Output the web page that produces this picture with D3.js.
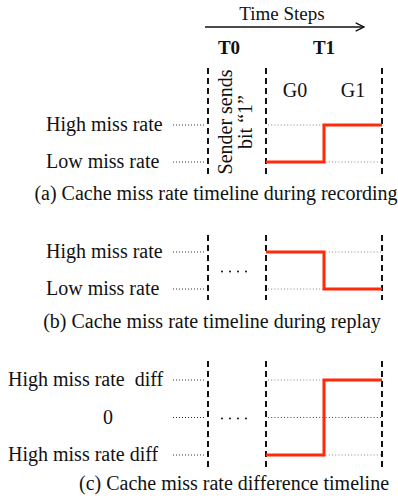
<!DOCTYPE html>
<html>
<head>
<meta charset="utf-8">
<script src="https://cdn.jsdelivr.net/npm/d3@7"></script>
<style>
  body { margin: 0; background: #fff; }
  svg text { font-family: "Liberation Serif", "DejaVu Serif", serif; fill: #111; white-space: pre; }
  .lbl { font-size: 20px; }
  .cap { font-size: 20px; }
  .ttl { font-size: 19px; }
  .bold { font-weight: bold; font-size: 19px; }
</style>
</head>
<body>
<div id="chartHolder"></div>
<script>
// time axis
const timeSteps = ["T0", "T1"];
const groups = ["G0", "G1"];
const senderText = ["Sender sends", "bit \u201C1\u201D"];

// panel data
const captions = [
  "(a) Cache miss rate timeline during recording",
  "(b) Cache miss rate timeline during replay",
  "(c) Cache miss rate difference timeline"
];
const levelLabelsA = ["High miss rate", "Low miss rate"];
const levelLabelsB = ["High miss rate", "Low miss rate"];
const levelLabelsC = ["High miss rate  diff", "0", "High miss rate diff"];
const levelValuesA = [1, 0];
const levelValuesB = [1, 0];
const levelValuesC = [1, 0, -1];
// value of G0 and G1
const recording = [0, 1];
const replay = [1, 0];
const difference = [-1, 1];

const w = 398;
const h = 499;

const svg = d3.select("#chartHolder")
  .append("svg")
  .attr("width", w)
  .attr("height", h);

// boundaries: 0 = start T0, 1 = start T1, 2 = G0/G1 split, 3 = end T1
const xScale = d3.scaleLinear().domain([0, 3]).range([208, 382]);

svg.append("defs").append("marker")
  .attr("id", "arr")
  .attr("viewBox", "0 0 10 10")
  .attr("refX", 9).attr("refY", 5)
  .attr("markerWidth", 8).attr("markerHeight", 8)
  .attr("orient", "auto")
  .append("path")
  .attr("d", "M1,1 L9,5 L1,9")
  .attr("fill", "none")
  .attr("stroke", "#111")
  .attr("stroke-width", 1.3);

// header
svg.append("line")
  .attr("x1", 205).attr("x2", 364)
  .attr("y1", 27).attr("y2", 27)
  .attr("stroke", "#111").attr("stroke-width", 1.3)
  .attr("marker-end", "url(#arr)");
svg.append("text").attr("class", "ttl")
  .attr("x", 282).attr("y", 20)
  .attr("text-anchor", "middle")
  .text("Time Steps");
svg.selectAll(".tstep")
  .data(timeSteps)
  .enter()
  .append("text")
  .attr("class", "bold tstep")
  .attr("x", (d, i) => [229, 324][i])
  .attr("y", 54)
  .attr("text-anchor", "middle")
  .text((d) => d);

const panels = [
  { labels: levelLabelsA, vals: levelValuesA, series: recording, dom: [0, 1], rng: [162, 125], top: 68, bot: 175, labX: 46, dots: false },
  { labels: levelLabelsB, vals: levelValuesB, series: replay, dom: [0, 1], rng: [289, 252], top: 235, bot: 300, labX: 46, dots: true },
  { labels: levelLabelsC, vals: levelValuesC, series: difference, dom: [-1, 1], rng: [455, 380], top: 361, bot: 467, labX: 8, dots: true }
];
const capPos = [[216, 200], [212, 328], [234, 490]];

panels.forEach((p, k) => {
  const y = d3.scaleLinear().domain(p.dom).range(p.rng);
  const g = svg.append("g");

  // labels on the left
  g.selectAll("text.level")
    .data(p.labels)
    .enter()
    .append("text")
    .attr("class", "lbl level")
    .attr("x", (d) => d == "0" ? 108 : p.labX)
    .attr("y", (d, i) => y(p.vals[i]) + 6)
    .attr("text-anchor", (d) => d == "0" ? "middle" : "start")
    .text((d) => d);

  // dotted guides on the left
  g.selectAll("line.lguide")
    .data(p.vals)
    .enter()
    .append("line")
    .attr("x1", 173).attr("x2", 206)
    .attr("y1", (d) => y(d)).attr("y2", (d) => y(d))
    .attr("stroke", "#333").attr("stroke-width", 1)
    .attr("stroke-dasharray", "1,2");

  // dotted guides on the right
  g.selectAll("line.rguide")
    .data(p.vals)
    .enter()
    .append("line")
    .attr("x1", xScale(1) + 2).attr("x2", xScale(3))
    .attr("y1", (d) => y(d)).attr("y2", (d) => y(d))
    .attr("stroke", (d) => d == 0 && p.vals.length == 3 ? "#444" : "#888")
    .attr("stroke-width", 1)
    .attr("stroke-dasharray", "1,2.2");

  // dashed boundaries
  g.selectAll("line.bound")
    .data([0, 1, 3])
    .enter()
    .append("line")
    .attr("x1", (d) => xScale(d)).attr("x2", (d) => xScale(d))
    .attr("y1", p.top).attr("y2", p.bot)
    .attr("stroke", "#111").attr("stroke-width", 2)
    .attr("stroke-dasharray", "6,4");

  // the step line
  const pts = [];
  p.series.forEach((v, i) => {
    pts.push([xScale(1 + i), y(v)]);
    pts.push([xScale(2 + i), y(v)]);
  });
  g.append("path")
    .attr("d", d3.line()(pts))
    .attr("fill", "none")
    .attr("stroke", "#ff2a0a")
    .attr("stroke-width", 3);

  if (p.dots) {
    g.selectAll("circle")
      .data([0, 1, 2, 3])
      .enter()
      .append("circle")
      .attr("cx", (d) => 222 + d * 8)
      .attr("cy", (y(p.vals[0]) + y(p.vals[p.vals.length - 1])) / 2 + 1)
      .attr("r", 1)
      .attr("fill", "#111");
  }

  svg.append("text").attr("class", "cap")
    .attr("x", capPos[k][0]).attr("y", capPos[k][1])
    .attr("text-anchor", "middle")
    .text(captions[k]);
});

// group labels + sender text (panel a)
svg.selectAll(".grp")
  .data(groups)
  .enter()
  .append("text")
  .attr("class", "lbl grp")
  .attr("x", (d, i) => (xScale(1 + i) + xScale(2 + i)) / 2)
  .attr("y", 97)
  .attr("text-anchor", "middle")
  .text((d) => d);

svg.selectAll(".sender")
  .data(senderText)
  .enter()
  .append("text")
  .attr("class", "lbl sender")
  .attr("text-anchor", "middle")
  .attr("transform", (d, i) => "translate(" + (232 + i * 20) + ",122)rotate(-90)")
  .text((d) => d);
</script>
</body>
</html>
